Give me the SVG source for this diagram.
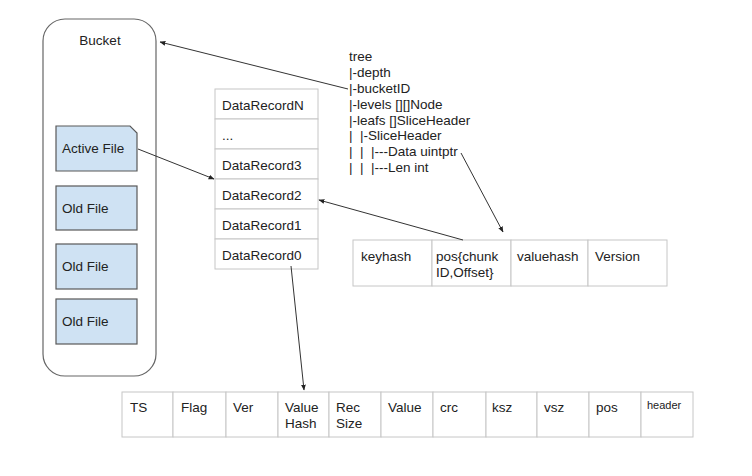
<svg xmlns="http://www.w3.org/2000/svg" width="752" height="476" viewBox="0 0 752 476">
<defs>
<marker id="ah" viewBox="0 0 10 10" refX="9" refY="5" markerWidth="6" markerHeight="6" orient="auto" markerUnits="userSpaceOnUse">
<path d="M0,1 L10,5 L0,9 Z" fill="#222"/>
</marker>
<style>
text{font-family:"Liberation Sans",Arial,sans-serif;font-size:13.5px;fill:#222;white-space:pre}
.file{fill:#cfe2f3;stroke:#595959;stroke-width:1.2}
.cell{fill:#fff;stroke:#c6c6c6;stroke-width:1}
.conn{fill:none;stroke:#333;stroke-width:1;marker-end:url(#ah)}
.small{font-size:11px}
</style>
</defs>
<rect width="752" height="476" fill="#fff"/>

<g id="bucket">
<rect x="43" y="19" width="113" height="357" rx="22" ry="22" fill="#fff" stroke="#666" stroke-width="1.2"/>
<text x="100" y="45" text-anchor="middle">Bucket</text>
</g>
<g id="active-file">
<path class="file" d="M56,126 H130 L137,133 V171 H56 Z"/>
<text x="62" y="153">Active File</text>
</g>
<g id="old-file-1">
<rect class="file" x="56" y="186" width="81" height="44"/>
<text x="62" y="213">Old File</text>
</g>
<g id="old-file-2">
<rect class="file" x="56" y="244" width="81" height="45"/>
<text x="62" y="271">Old File</text>
</g>
<g id="old-file-3">
<rect class="file" x="56" y="299" width="81" height="45"/>
<text x="62" y="326">Old File</text>
</g>

<g id="datarecords">
<rect class="cell" x="215" y="89" width="103" height="30"/>
<rect class="cell" x="215" y="119" width="103" height="30"/>
<rect class="cell" x="215" y="149" width="103" height="30"/>
<rect class="cell" x="215" y="179" width="103" height="30"/>
<rect class="cell" x="215" y="209" width="103" height="30"/>
<rect class="cell" x="215" y="239" width="103" height="30"/>
<text x="222" y="110">DataRecordN</text>
<text x="222" y="140">...</text>
<text x="222" y="170">DataRecord3</text>
<text x="222" y="200">DataRecord2</text>
<text x="222" y="230">DataRecord1</text>
<text x="222" y="260">DataRecord0</text>
</g>

<g id="tree" xml:space="preserve">
<text x="349" y="61">tree</text>
<text x="349" y="77">|-depth</text>
<text x="349" y="93">|-bucketID</text>
<text x="349" y="109">|-levels [][]Node</text>
<text x="349" y="125">|-leafs []SliceHeader</text>
<text x="349" y="140">|  |-SliceHeader</text>
<text x="349" y="156">|  |  |---Data uintptr</text>
<text x="349" y="172">|  |  |---Len int</text>
</g>

<g id="index-entry">
<rect class="cell" x="353" y="240" width="79" height="46"/>
<rect class="cell" x="432" y="240" width="79" height="46"/>
<rect class="cell" x="511" y="240" width="77" height="46"/>
<rect class="cell" x="588" y="240" width="79" height="46"/>
<text x="361" y="261">keyhash</text>
<text x="436" y="261">pos{chunk</text>
<text x="436" y="277">ID,Offset}</text>
<text x="517" y="261">valuehash</text>
<text x="595" y="261">Version</text>
</g>

<g id="record-layout">
<rect class="cell" x="122" y="392" width="51" height="45"/>
<rect class="cell" x="173" y="392" width="53" height="45"/>
<rect class="cell" x="226" y="392" width="52" height="45"/>
<rect class="cell" x="278" y="392" width="51" height="45"/>
<rect class="cell" x="329" y="392" width="52" height="45"/>
<rect class="cell" x="381" y="392" width="52" height="45"/>
<rect class="cell" x="433" y="392" width="53" height="45"/>
<rect class="cell" x="486" y="392" width="51" height="45"/>
<rect class="cell" x="537" y="392" width="52" height="45"/>
<rect class="cell" x="589" y="392" width="52" height="45"/>
<rect class="cell" x="641" y="392" width="52" height="45"/>
<text x="130" y="412">TS</text>
<text x="181" y="412">Flag</text>
<text x="233" y="412">Ver</text>
<text x="285" y="412">Value</text>
<text x="285" y="428">Hash</text>
<text x="336" y="412">Rec</text>
<text x="336" y="428">Size</text>
<text x="388" y="412">Value</text>
<text x="440" y="412">crc</text>
<text x="492" y="412">ksz</text>
<text x="544" y="412">vsz</text>
<text x="596" y="412">pos</text>
<text class="small" x="647" y="409">header</text>
</g>

<g id="connectors">
<path class="conn" d="M348,89 L160,42"/>
<path class="conn" d="M138,149 L214,179"/>
<path class="conn" d="M463,240 L319,200"/>
<path class="conn" d="M461,153 L503,232"/>
<path class="conn" d="M291,266 L304,390"/>
</g>
</svg>
